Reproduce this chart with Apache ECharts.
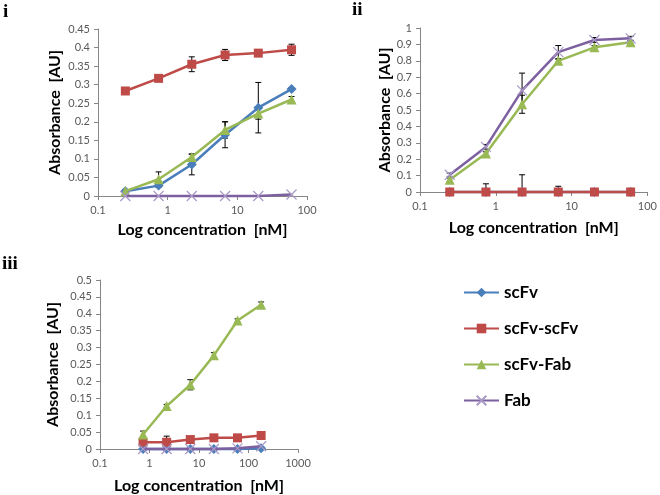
<!DOCTYPE html>
<html>
<head>
<meta charset="utf-8">
<script src="https://cdn.jsdelivr.net/npm/echarts@6/dist/echarts.min.js"></script>
<style>html,body{margin:0;padding:0;background:#fff}#c{width:660px;height:495px}</style>
</head>
<body>
<div id="c"></div>
<script>
// ---- data ----
var seriesNames = ['scFv', 'scFv-scFv', 'scFv-Fab', 'Fab'];
var concI = [0.247, 0.741, 2.22, 6.67, 20, 60];
var concII = [0.247, 0.741, 2.22, 6.67, 20, 60];
var concIII = [0.741, 2.22, 6.67, 20, 60, 180];

var scFv_i = [0.013, 0.028, 0.085, 0.165, 0.238, 0.288];
var scFv_i_err = [0.003, 0.004, 0.028, 0.035, 0.068, 0.004];
var scFvScFv_i = [0.283, 0.317, 0.355, 0.380, 0.385, 0.394];
var scFvScFv_i_err = [0.003, 0.003, 0.020, 0.015, 0.006, 0.015];
var scFvFab_i = [0.013, 0.045, 0.105, 0.178, 0.222, 0.260];
var scFvFab_i_err = [0.004, 0.020, 0.008, 0.022, 0.015, 0.008];
var fab_i = [0, 0, 0, 0, 0, 0.004];
var fab_i_err = [0, 0, 0, 0, 0, 0];

var scFv_ii = [0, 0, 0, 0, 0, 0];
var scFv_ii_err = [0, 0, 0, 0, 0, 0];
var scFvScFv_ii = [0, 0, 0, 0, 0, 0];
var scFvScFv_ii_err = [0.003, 0.050, 0.105, 0.035, 0.003, 0.003];
var scFvFab_ii = [0.075, 0.235, 0.535, 0.800, 0.882, 0.913];
var scFvFab_ii_err = [0.010, 0.010, 0.055, 0.010, 0.010, 0.010];
var fab_ii = [0.105, 0.275, 0.620, 0.853, 0.927, 0.937];
var fab_ii_err = [0.010, 0.015, 0.105, 0.040, 0.015, 0.012];

var scFv_iii = [0, 0, 0, 0, 0, 0.002];
var scFv_iii_err = [0, 0, 0, 0, 0, 0];
var scFvScFv_iii = [0.020, 0.020, 0.028, 0.033, 0.033, 0.040];
var scFvScFv_iii_err = [0.003, 0.018, 0.004, 0.003, 0.003, 0.003];
var scFvFab_iii = [0.043, 0.127, 0.190, 0.277, 0.380, 0.427];
var scFvFab_iii_err = [0.010, 0.005, 0.015, 0.008, 0.005, 0.008];
var fab_iii = [0, 0, 0, 0, 0.002, 0.008];
var fab_iii_err = [0, 0, 0, 0, 0, 0];

var panelLabels = ['i', 'ii', 'iii'];
var yTitle = 'Absorbance  [AU]';
var xTitle = 'Log concentration  [nM]';

// ---- styles ----
var colors = ['#4A7EBB', '#BE4B48', '#98B954', '#7D60A0'];
var crossPath = 'path://M0,0L10,10M10,0L0,10';
var symbols = ['diamond', 'rect', 'triangle', crossPath];
var symSizes = [10, 9, 10, 10];
var font = 'Lato, "Open Sans", sans-serif';

var panels = [
  {x: concI, ys: [scFv_i, scFvScFv_i, scFvFab_i, fab_i], es: [scFv_i_err, scFvScFv_i_err, scFvFab_i_err, fab_i_err]},
  {x: concII, ys: [scFv_ii, scFvScFv_ii, scFvFab_ii, fab_ii], es: [scFv_ii_err, scFvScFv_ii_err, scFvFab_ii_err, fab_ii_err]},
  {x: concIII, ys: [scFv_iii, scFvScFv_iii, scFvFab_iii, fab_iii], es: [scFv_iii_err, scFvScFv_iii_err, scFvFab_iii_err, fab_iii_err]}
];

var grids = [
  {left: 98, top: 29, width: 209, height: 167},
  {left: 420, top: 28, width: 229, height: 164},
  {left: 100, top: 280, width: 198, height: 169}
];
var yCfg = [
  {max: 0.45, interval: 0.05, nameGap: 35},
  {max: 1, interval: 0.1, nameGap: 27},
  {max: 0.5, interval: 0.05, nameGap: 39}
];
var xCfg = [
  {max: 100, nameGap: 26},
  {max: 100, nameGap: 28},
  {max: 1000, nameGap: 29}
];

var axisLine = {show: true, lineStyle: {color: '#868686', width: 1}};
var xAxes = [], yAxes = [], series = [];
for (var p = 0; p < 3; p++) {
  xAxes.push({
    type: 'log', logBase: 10, gridIndex: p, min: 0.1, max: xCfg[p].max,
    axisLine: axisLine, axisTick: {show: true, length: 4, lineStyle: {color: '#868686'}},
    splitLine: {show: false}, minorTick: {show: false},
    axisLabel: {color: '#595959', fontSize: 11, fontFamily: font, margin: 9,
      formatter: function (v) { return String(+v.toPrecision(6)); }},
    name: xTitle, nameLocation: 'middle', nameGap: xCfg[p].nameGap,
    nameTextStyle: {fontSize: 16, fontWeight: 'bold', color: '#000', fontFamily: font}
  });
  yAxes.push({
    type: 'value', gridIndex: p, min: 0, max: yCfg[p].max, interval: yCfg[p].interval,
    axisLine: axisLine, axisTick: {show: true, length: 4, lineStyle: {color: '#868686'}},
    splitLine: {show: false},
    axisLabel: {color: '#595959', fontSize: 11, fontFamily: font, margin: 8},
    name: yTitle, nameLocation: 'middle', nameGap: yCfg[p].nameGap, nameRotate: 90,
    nameTextStyle: {fontSize: 16, fontWeight: 'bold', color: '#000', fontFamily: font}
  });
  var pd = panels[p];
  for (var s = 0; s < 4; s++) {
    var pts = [], errs = [];
    for (var k = 0; k < pd.x.length; k++) {
      pts.push([pd.x[k], pd.ys[s][k]]);
      if (pd.es[s][k] > 0) errs.push([pd.x[k], pd.ys[s][k] - pd.es[s][k], pd.ys[s][k] + pd.es[s][k]]);
    }
    series.push({
      type: 'custom', xAxisIndex: p, yAxisIndex: p, z: 3, silent: true, clip: true,
      data: errs,
      renderItem: function (params, api) {
        var x = api.value(0);
        var lo = api.coord([x, Math.max(api.value(1), 0)]);
        var hi = api.coord([x, api.value(2)]);
        var w = 3;
        var st = {stroke: '#000', lineWidth: 1};
        var ch = [
          {type: 'line', shape: {x1: hi[0], y1: hi[1], x2: lo[0], y2: lo[1]}, style: st},
          {type: 'line', shape: {x1: hi[0] - w, y1: hi[1], x2: hi[0] + w, y2: hi[1]}, style: st}
        ];
        if (api.value(1) > 0) ch.push({type: 'line', shape: {x1: lo[0] - w, y1: lo[1], x2: lo[0] + w, y2: lo[1]}, style: st});
        return {type: 'group', children: ch};
      }
    });
    series.push({
      name: seriesNames[s], type: 'line', xAxisIndex: p, yAxisIndex: p, data: pts,
      symbol: symbols[s], symbolSize: symSizes[s], showSymbol: true, clip: false, z: 4 + s,
      lineStyle: {color: colors[s], width: 2.5},
      itemStyle: s === 3 ? {color: colors[s], borderColor: '#A999C6', borderWidth: 1.2} : {color: colors[s], borderWidth: 0},
      animation: false
    });
  }
}

var chart = echarts.init(document.getElementById('c'), null, {renderer: 'canvas'});
chart.setOption({
  backgroundColor: '#fff',
  animation: false,
  grid: grids,
  xAxis: xAxes,
  yAxis: yAxes,
  legend: {
    data: seriesNames, orient: 'vertical', left: 458, top: 279,
    itemWidth: 35, itemHeight: 12, itemGap: 19,
    textStyle: {fontSize: 17, fontWeight: 'bold', color: '#000', fontFamily: font},
    selectedMode: false
  },
  graphic: [
    {type: 'text', left: 3, top: 3, style: {text: panelLabels[0], font: 'bold 19px "Liberation Serif", serif', fill: '#000'}},
    {type: 'text', left: 352, top: 1, style: {text: panelLabels[1], font: 'bold 19px "Liberation Serif", serif', fill: '#000'}},
    {type: 'text', left: 2, top: 255, style: {text: panelLabels[2], font: 'bold 19px "Liberation Serif", serif', fill: '#000'}}
  ],
  series: series
});
</script>
</body>
</html>
